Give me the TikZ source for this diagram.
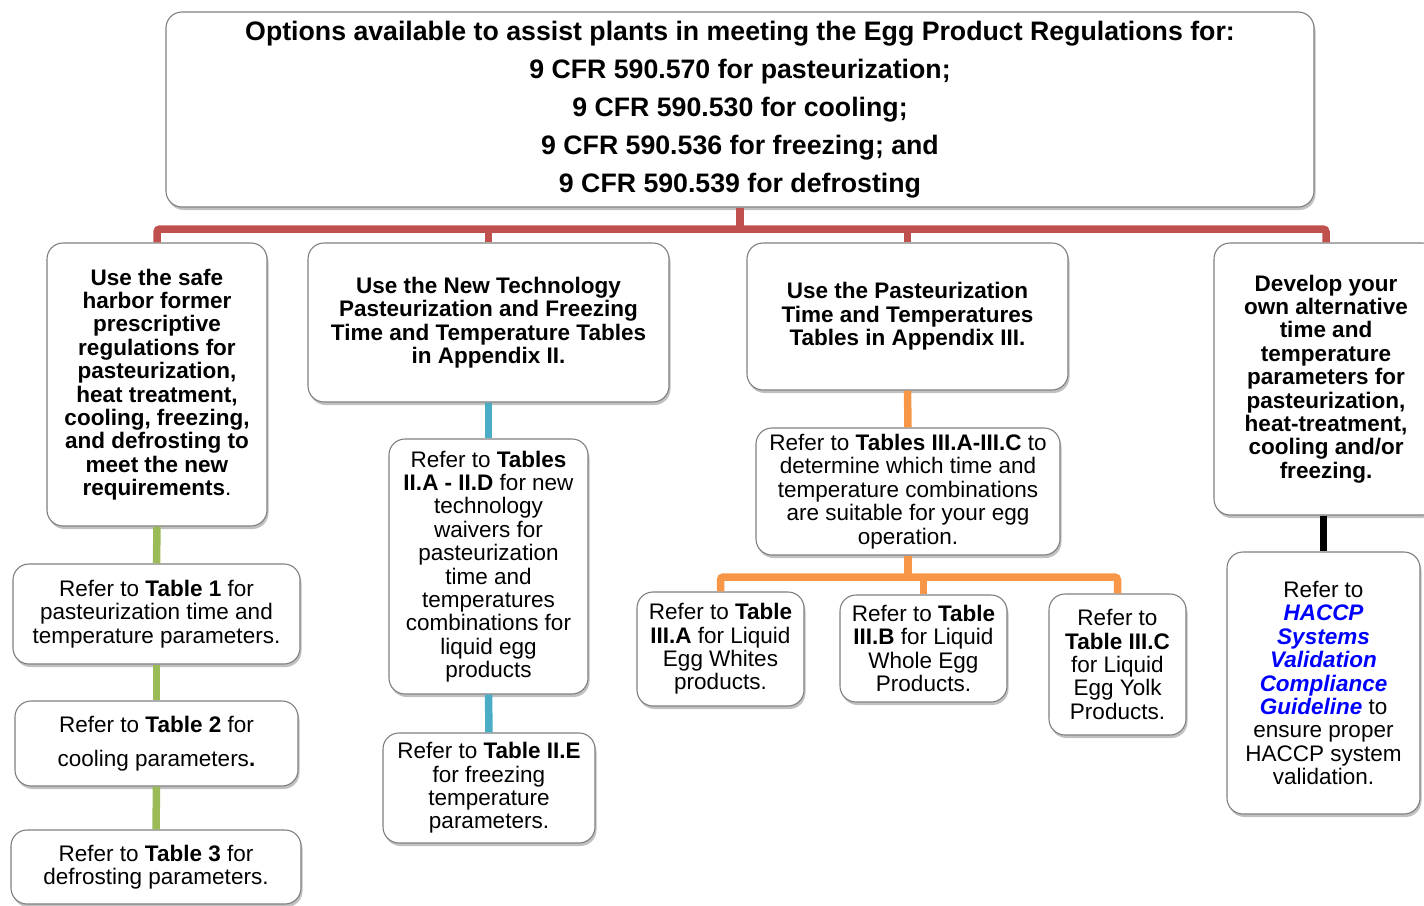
\documentclass[tikz,border=0pt]{standalone}
\usepackage{fontspec}
\setmainfont{Liberation Sans}
\usetikzlibrary{shadows}
\definecolor{cred}{HTML}{C0504D}
\definecolor{cgreen}{HTML}{9BBB59}
\definecolor{cblue}{HTML}{4BACC6}
\definecolor{corange}{HTML}{F79646}
\definecolor{cborder}{HTML}{7F7F7F}
\definecolor{clink}{HTML}{0000FF}
\begin{document}
\begin{tikzpicture}[x=1pt,y=-1pt,
  box/.style={draw=cborder, line width=1.1pt, fill=white, rounded corners=16pt,
    align=center, inner sep=0pt,
    drop shadow={shadow xshift=1.5pt, shadow yshift=-3pt, opacity=0.35, fill=black!70},
    font=\fontsize{22.5}{23.4}\selectfont},
  bbox/.style={box, font=\fontsize{22.5}{23.4}\selectfont\bfseries},
  conn/.style={line width=7.5pt, rounded corners=3pt},
]
\useasboundingbox (0,0) rectangle (1424,905);

% top
\node[box, minimum width=1148pt, minimum height=195pt,
  font=\fontsize{26.7}{38}\selectfont\bfseries] (top) at (740,109.5)
  {Options available to assist plants in meeting the Egg Product Regulations for:\\
   9 CFR 590.570 for pasteurization;\\
   9 CFR 590.530 for cooling;\\
   9 CFR 590.536 for freezing; and\\
   9 CFR 590.539 for defrosting};

% level 1
\node[bbox, minimum width=220pt, minimum height=283pt] (L1) at (157,384.5)
  {Use the safe\\harbor former\\prescriptive\\regulations for\\pasteurization,\\heat treatment,\\cooling, freezing,\\and defrosting to\\meet the new\\requirements\mdseries.};
\node[bbox, minimum width=361pt, minimum height=159pt] (L2) at (488.5,322.5)
  {Use the New Technology\\Pasteurization and Freezing\\Time and Temperature Tables\\in Appendix II.};
\node[bbox, minimum width=321pt, minimum height=147pt] (L3) at (907.5,316.5)
  {Use the Pasteurization\\Time and Temperatures\\Tables in Appendix III.};
\node[bbox, minimum width=224pt, minimum height=272pt] (L4) at (1326,379)
  {Develop your\\own alternative\\time and\\temperature\\parameters for\\pasteurization,\\heat-treatment,\\cooling and/or\\freezing.};

% left column
\node[box, minimum width=287pt, minimum height=100pt] (A1) at (156.5,614)
  {Refer to \textbf{Table 1} for\\pasteurization time and\\temperature parameters.};
\node[box, minimum width=283pt, minimum height=85pt] (A2) at (156.5,743.5)
  {Refer to \textbf{Table 2} for\\[10pt]cooling parameters\textbf{.}};
\node[box, minimum width=290pt, minimum height=74pt] (A3) at (156,867)
  {Refer to \textbf{Table 3} for\\defrosting parameters.};

% second column
\node[box, minimum width=199pt, minimum height=255pt] (B1) at (488.5,566.5)
  {Refer to \textbf{Tables}\\\textbf{II.A - II.D} for new\\technology\\waivers for\\pasteurization\\time and\\temperatures\\combinations for\\liquid egg\\products};
\node[box, minimum width=212pt, minimum height=110pt] (B2) at (489,788)
  {Refer to \textbf{Table II.E}\\for freezing\\temperature\\parameters.};

% third column
\node[box, minimum width=304pt, minimum height=127pt] (C1) at (908,491.5)
  {Refer to \textbf{Tables III.A-III.C} to\\determine which time and\\temperature combinations\\are suitable for your egg\\operation.};
\node[box, minimum width=167pt, minimum height=114pt] (C2) at (720.5,649)
  {Refer to \textbf{Table}\\\textbf{III.A} for Liquid\\Egg Whites\\products.};
\node[box, minimum width=167pt, minimum height=107pt] (C3) at (923.5,648.5)
  {Refer to \textbf{Table}\\\textbf{III.B} for Liquid\\Whole Egg\\Products.};
\node[box, minimum width=137pt, minimum height=141pt] (C4) at (1117.5,664.5)
  {Refer to\\\textbf{Table III.C}\\for Liquid\\Egg Yolk\\Products.};

% fourth column
\node[box, minimum width=193pt, minimum height=262pt] (D1) at (1323.5,683)
  {Refer to\\\textcolor{clink}{\bfseries\itshape HACCP}\\\textcolor{clink}{\bfseries\itshape Systems}\\\textcolor{clink}{\bfseries\itshape Validation}\\\textcolor{clink}{\bfseries\itshape Compliance}\\\textcolor{clink}{\bfseries\itshape Guideline} to\\ensure proper\\HACCP system\\validation.};

% connectors
\coordinate (rbus) at (740,229);
\draw[conn, cred] (top.south) -- (rbus);
\draw[conn, cred] (L1.north) |- (rbus) -| (L4.north);
\draw[conn, cred] (L2.north) -- (L2.north |- rbus);
\draw[conn, cred] (L3.north) -- (L3.north |- rbus);

\draw[conn, cgreen] (L1.south) -- (A1.north);
\draw[conn, cgreen] (A1.south) -- (A2.north);
\draw[conn, cgreen] (A2.south) -- (A3.north);

\draw[conn, cblue] (L2.south) -- (B1.north);
\draw[conn, cblue] (B1.south) -- (B2.north);

\draw[conn, corange] (L3.south) -- (C1.north);
\coordinate (obus) at (908,577);
\draw[conn, corange] (C1.south) -- (obus);
\draw[conn, corange] (C2.north) |- (obus) -| (C4.north);
\draw[conn, corange] (C3.north) -- (C3.north |- obus);

\draw[conn, black] (D1.north |- L4.south) -- (D1.north);
\end{tikzpicture}
\end{document}
